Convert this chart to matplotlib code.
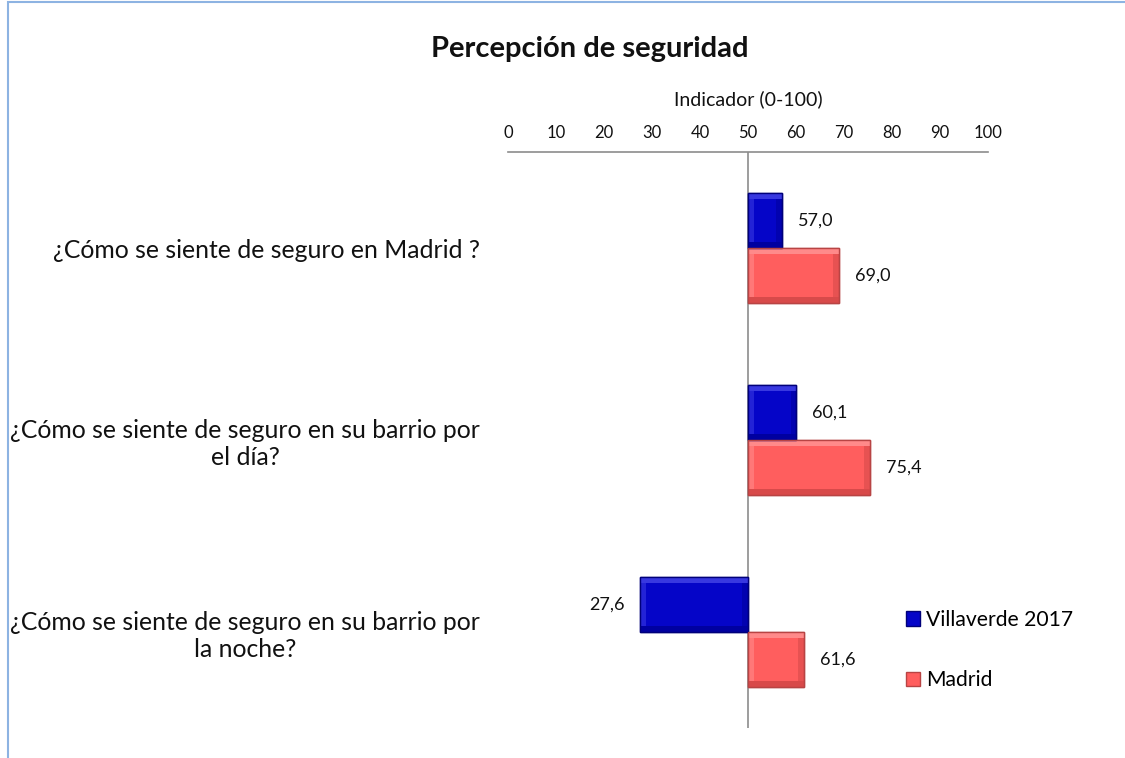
import matplotlib
matplotlib.use("Agg")
import matplotlib.pyplot as plt
from matplotlib.patches import Patch, Rectangle
import numpy as np

categories = ["¿Cómo se siente de seguro en Madrid ?",
              "¿Cómo se siente de seguro en su barrio por\nel día?",
              "¿Cómo se siente de seguro en su barrio por\nla noche?"]
villaverde = [57.0, 60.1, 27.6]
madrid = [69.0, 75.4, 61.6]
series_names = ["Villaverde 2017", "Madrid"]
ticks = [0, 10, 20, 30, 40, 50, 60, 70, 80, 90, 100]
base = 50

FONT = "Lato"
plt.rcParams['font.family'] = [FONT, 'DejaVu Sans']

fig = plt.figure(figsize=(11.25, 7.58), dpi=100)
ax = fig.add_axes([508/1125, 1-728/758, 480/1125, 576/758])

# frame border of chart area
fig.patches.append(Rectangle((8/1125, -0.01), 1.2, 1 - 2/758 + 0.01, transform=fig.transFigure,
                             fill=False, edgecolor="#8DB3E2", linewidth=1.5))

blue = "#0505C8"
blue_edge = "#00007A"
blue_light = "#3838E0"
blue_dark = "#0000A0"
red = "#FF5E5E"
red_edge = "#B84444"
red_light = "#FF8A8A"
red_dark = "#D84A4A"

y = np.arange(len(categories))
h = 0.287
vv = np.array(villaverde) - base
mm = np.array(madrid) - base
b1 = ax.barh(y - h/2, vv, height=h, left=base, color=blue, edgecolor=blue_edge, linewidth=1.0, zorder=3)
b2 = ax.barh(y + h/2, mm, height=h, left=base, color=red, edgecolor=red_edge, linewidth=1.0, zorder=3)

# bevel bands inside bars (derived from bar geometry)
dx = 1.2   # data units (~6 px)
dy = 0.03  # category units (~6 px)
for bars, light, dark in ((b1, blue_light, blue_dark), (b2, red_light, red_dark)):
    for p in bars:
        x0, y0 = p.get_x(), p.get_y()
        w, hh = p.get_width(), p.get_height()
        xa, xb = min(x0, x0 + w), max(x0, x0 + w)
        ax.add_patch(Rectangle((xa, y0), xb - xa, dy, facecolor=light, edgecolor="none", zorder=4))
        ax.add_patch(Rectangle((xa, y0 + hh - dy), xb - xa, dy, facecolor=dark, edgecolor="none", zorder=4))
        ax.add_patch(Rectangle((xa, y0 + dy), dx, hh - 2*dy, facecolor=light, edgecolor="none", zorder=4, alpha=0.6))
        ax.add_patch(Rectangle((xb - dx, y0 + dy), dx, hh - 2*dy, facecolor=dark, edgecolor="none", zorder=4, alpha=0.6))
        ax.add_patch(Rectangle((xa, y0), xb - xa, hh, facecolor="none", edgecolor=p.get_edgecolor(), linewidth=1.0, zorder=5))

def fmt(v):
    return f"{v:.1f}".replace(".", ",")

for vals, yy in ((villaverde, y - h/2), (madrid, y + h/2)):
    for v, yc in zip(vals, yy):
        if v >= base:
            ax.annotate(fmt(v), (v, yc), xytext=(16, 0), textcoords="offset pixels",
                        ha="left", va="center", fontsize=13, color="#111111")
        else:
            ax.annotate(fmt(v), (v, yc), xytext=(-16, 0), textcoords="offset pixels",
                        ha="right", va="center", fontsize=13, color="#111111")

ax.set_xlim(0, 100)
ax.set_ylim(len(categories) - 0.5, -0.5)
ax.xaxis.tick_top()
ax.xaxis.set_label_position("top")
ax.set_xticks(ticks)
ax.set_xticklabels([str(t) for t in ticks], fontsize=12)
ax.tick_params(axis="x", length=0, pad=8, colors="#111111")
ax.set_xlabel("Indicador (0-100)", fontsize=14, labelpad=14, color="#111111")

ax.set_yticks(y)
ax.set_yticklabels(categories, fontsize=17.8, multialignment="center")
ax.tick_params(axis="y", length=0, pad=20, colors="#111111")

for s in ("left", "right", "bottom"):
    ax.spines[s].set_visible(False)
ax.spines["top"].set_color("#8C8C8C")
ax.spines["top"].set_linewidth(1.2)
ax.axvline(base, color="#8C8C8C", linewidth=1.2, zorder=2)

fig.text(590/1125, 1-49/758, "Percepción de seguridad", ha="center", va="center",
         fontsize=21, fontweight="bold", color="#111111")

handles = [Patch(facecolor=blue, edgecolor=blue_edge), Patch(facecolor=red, edgecolor=red_edge)]
fig.legend(handles, series_names, loc="center left", bbox_to_anchor=(887/1125, 1-650/758),
           frameon=False, fontsize=15.2, handlelength=0.65, handleheight=0.65, handletextpad=0.3,
           labelspacing=1.9)

fig.savefig("out.png", dpi=100)
